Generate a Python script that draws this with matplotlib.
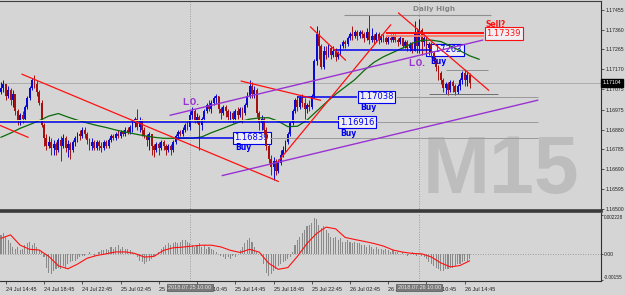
import matplotlib
matplotlib.use('Agg')
import matplotlib.pyplot as plt
import matplotlib.transforms as mtrans
import numpy as np

# ---------------- data (prices in pips above 1.16000) ----------------
BASE = 1.16
first_open = 106
close_pips = [108,110,104,107,102,105,97,92,95,93,
              99,103,108,112,110,106,101,90,84,80,
              82,79,81,78,83,80,84,79,81,78,
              82,84,86,85,88,86,83,80,82,79,
              82,80,79,82,80,83,85,84,86,85,
              87,86,88,87,89,91,93,89,92,88,
              85,83,86,80,78,81,79,82,80,78,
              80,78,82,85,87,86,88,90,89,95,
              97,92,94,90,93,97,100,98,101,103,
              104,98,96,99,97,94,96,93,97,95,
              98,96,100,104,109,105,107,96,91,93,
              88,80,74,70,73,68,72,76,78,82,
              86,91,97,102,99,103,101,98,100,99,
              104,121,134,128,118,126,124,127,124,126,
              123,125,128,130,129,132,134,133,135,133,
              135,134,132,135,131,133,131,134,131,133,
              132,130,132,131,133,131,130,132,128,130,
              127,129,126,134,128,136,130,132,127,129,
              125,121,118,115,112,108,110,107,111,109,
              106,109,112,115,112,114,110.4]
high_pips = [111,112,110,109,108,107,105,98,96,97,
             100,104,109,113,114,112,107,102,91,86,
             85,84,83,82,84,85,86,85,83,82,
             83,85,87,88,89,89,87,84,84,83,
             83,83,82,83,83,84,86,86,87,88,
             88,88,89,89,90,92,94,98,94,93,
             89,86,87,86,81,82,82,83,83,81,
             81,81,83,86,88,88,89,91,92,97,
             99,98,96,95,94,98,101,102,102,104,
             105,104,99,100,100,98,97,97,98,99,
             99,99,101,106,112,111,109,108,97,95,
             94,89,81,76,75,74,74,78,80,83,
             87,92,98,103,104,104,105,103,101,102,
             105,122,138,136,129,128,128,129,128,128,
             127,126,129,131,131,133,135,138,136,136,
             136,136,135,137,143,137,134,135,135,134,
             134,133,133,134,134,134,132,133,132,131,
             131,130,130,140,137,141,137,134,133,130,
             130,126,122,119,116,113,111,111,112,112,
             110,110,113,116,117,116,115]
low_pips = [105,106,102,103,100,99,95,90,90,91,
            92,98,102,107,108,104,100,89,80,78,
            79,76,76,76,77,73,79,77,75,74,
            77,80,82,83,84,84,81,78,78,78,
            78,78,77,78,79,79,82,83,83,84,
            84,85,85,86,86,87,89,88,87,85,
            84,80,78,76,75,77,76,78,78,76,
            77,76,77,81,84,85,85,87,88,88,
            93,91,91,78,88,92,96,97,96,100,
            101,96,93,95,94,92,92,91,92,93,
            94,91,95,99,103,103,103,94,88,88,
            86,78,72,66,64,66,67,71,75,77,
            81,85,90,96,97,98,99,93,96,97,
            98,103,119,122,117,117,122,123,122,123,
            121,122,124,127,127,128,131,131,132,131,
            132,132,130,131,129,130,129,130,129,130,
            130,129,129,130,130,130,128,129,127,127,
            126,126,125,126,125,125,124,128,125,124,
            123,120,116,112,110,106,105,104.5,106,106,
            104.5,105,107,110,109,109,108]
# moving average, read every 4th bar (pips)
ma_pips = [84.3,86.3,88.6,90.4,92.3,94.5,95.7,94.0,92.5,91.2,90.0,89.0,87.8,86.8,
           85.9,85.0,84.3,83.8,83.8,83.8,83.8,84.5,86.5,88.2,90.0,91.8,93.0,93.6,
           93.7,92.0,89.4,89.6,92.5,96.8,101.0,105.0,108.5,112.0,116.5,120.3,123.0,
           125.1,127.2,129.5,130.9,131.0,130.3,128.2,125.9,123.5,121.8]
# MACD histogram per bar and signal every 4th bar (units of 1e-4)
macd_hist = [11,12,10,8,6, 4,3,4,2, 3,5,6,7,5,6,4, 2,1,-2, -8,-11,-12,-10,
             -9,-8,-9,-7,-8,-6,-5, -4,-4,-3,-2, -1,-1,0,1,0,-1,0,1,
             2,2,3,2,4,3,4,5,3,4,3, 3,2,1,0, -2,-4,-5,-6,-5,-4,-3,
             -1,0,1,3,4,5, 6,5,6,7,6, 7,8,8,7,6, 5,4,5,6,4,5,3,4,3,2,
             1,0,-1,-2,-3,-2,-3,-1,-2,0, 2,4,6,8,9,7, 4,1,0,-1,
             -6,-11,-13,-12, -10,-9,-7,-6,-5,-4, -3,-2,1, 5,8,10,12,
             14,16,17,18, 21,20,17, 15,16,14,12,10, 9,10,8,9,7,
             7,8,7,6,7,6,6,5, 5,4,5,4,3,4,3,3, 2,3,2,1,2,1,1,0,1,
             0,-1,0,1,0,-1,0,-1, -2,-3,-5,-6,-7,-8,-9,-10,
             -10,-9,-9,-8,-8,-7, -6,-6,-5,-4,-4,-3]
macd_signal = [9.0,11.0,5.0,2.6,2.2,-1.5,-7.0,-8.7,-6.0,-2.6,-1.0,0.0,1.1,1.1,0.2,
               -1.9,-1.5,2.0,3.5,3.9,4.5,5.0,5.0,4.0,2.0,0.8,2.6,1.0,-5.5,-9.0,-8.0,
               -1.5,6.0,11.8,15.5,14.5,9.5,8.3,7.2,6.0,4.5,2.2,1.0,0.2,0.0,-1.8,-5.3,
               -7.6,-6.8,-4.1]
time_labels = ['24 Jul 14:45','24 Jul 18:45','24 Jul 22:45','25 Jul 02:45','25 Jul 06:45',
               '25 Jul 10:45','25 Jul 14:45','25 Jul 18:45','25 Jul 22:45','26 Jul 02:45',
               '26 Jul 06:45','26 Jul 10:45','26 Jul 14:45']
price_ticks = [1.17455,1.17360,1.17265,1.17170,1.17075,1.16975,1.16880,1.16785,
               1.16690,1.16595,1.16500]
bid_price = 1.17104
session_marks = [('2018.07.25 10:00', 79), ('2018.07.26 10:00', 175)]

# chart objects: (bar, pips) endpoints
red_lines = [((8.8,114.6),(116.0,63.1)), ((-0.42,90.0),(11.3,84.3)),
             ((100.5,111.3),(133.6,102.1)), ((115.6,72.2),(163.0,138.3)),
             ((129.5,137.3),(144.1,121.4)), ((166.3,144.0),(204.0,106.9))]
purple_lines = [((70.8,94.9),(201.5,131.0)), ((92.6,65.9),(224.5,102.1))]

BG = '#d5d5d5'
BULL = '#0a0ad2'
BEAR = '#a81010'
BLUE = '#0000f0'
PURPLE = '#9a32d2'
RED = '#ff1010'
AXF = 'Liberation Sans'

def P(pips):
    return BASE + np.asarray(pips, dtype=float) / 1e4

c = np.array(close_pips, float)
o = np.r_[first_open, c[:-1]]
h = np.maximum(np.array(high_pips, float), np.maximum(o, c))
l = np.minimum(np.array(low_pips, float), np.minimum(o, c))
idx = np.arange(len(c))

fig = plt.figure(figsize=(6.25, 2.95), dpi=100, facecolor=BG)
ax = fig.add_axes([0, 1 - 210.5/295, 601/625, (210.5 - 1)/295], facecolor=BG)
ax2 = fig.add_axes([0, 1 - 281/295, 601/625, (281 - 212.5)/295], facecolor=BG)
XL = (-0.42, 251.0)
for a in (ax, ax2):
    a.set_xlim(*XL)
    a.spines['left'].set_visible(False)
    a.spines['right'].set_color('#303030')
    a.spines['right'].set_linewidth(0.8)
ax.set_ylim(P(49.1), P(149.8))
ax2.set_ylim(-0.00158, 0.0024)
ax.spines['top'].set_color('#404040')
ax.spines['top'].set_linewidth(0.8)
ax.spines['bottom'].set_color('#3a3a3a')
ax.spines['bottom'].set_linewidth(2.6)
ax2.spines['top'].set_visible(False)
ax2.spines['bottom'].set_color('#303030')
ax2.spines['bottom'].set_linewidth(0.8)

# watermark
ax.text(209, P(67.4), 'M15', fontsize=58, fontweight='bold', family='Liberation Sans',
        color='#bdbdbd', ha='center', va='center', zorder=0.5)

# candles
up = c >= o
col = np.where(up, BULL, BEAR)
ax.vlines(idx, P(l), P(h), colors=col, linewidth=0.7, zorder=3)
body_lo = np.minimum(o, c)
body_h = np.maximum(np.abs(c - o), 0.4)
ax.bar(idx, body_h / 1e4, bottom=P(body_lo), width=0.78, color=col, linewidth=0, zorder=3)

# moving average
ma_idx = np.arange(len(ma_pips)) * 4
ax.plot(ma_idx, P(ma_pips), color='#0a6a0a', lw=0.9, zorder=3.5)

# bid line and separators
ax.axhline(bid_price, color='#a6a6a6', lw=0.6, zorder=1)
for lab, b in session_marks:
    for a in (ax, ax2):
        a.axvline(b, color='#9c9c9c', lw=0.7, ls=(0, (1, 1.5)), zorder=1)

# horizontal object lines
def hline(y_pips, x0, x1, color, lw=0.9, z=4):
    ax.plot([x0, x1], [P(y_pips), P(y_pips)], color=color, lw=lw, zorder=z, solid_capstyle='butt')

hline(92.5, -0.42, 142, '#f2f0a0', lw=0.7, z=3.8)
hline(91.6, -0.42, 141.2, BLUE, lw=1.1)
hline(91.6, 156.7, 224.5, '#9a9a9a', lw=0.7)
hline(83.9, 72.9, 97.2, BLUE, lw=1.1)
hline(83.9, 112.7, 224.5, '#9a9a9a', lw=0.7)
hline(103.8, 124.0, 149.1, BLUE, lw=1.1)
hline(103.8, 165.1, 224.5, '#9a9a9a', lw=0.7)
hline(126.3, 139.1, 179.7, BLUE, lw=1.1)
hline(143.1, 143.3, 204.9, '#8e8e8e', lw=0.8)
hline(116.6, 186.0, 203.6, '#8e8e8e', lw=0.7)
hline(104.9, 178.9, 207.8, '#6e6e6e', lw=0.7)
hline(133.2, 160.9, 201.9, '#ff7a6a', lw=1.3)
hline(134.2, 160.9, 201.9, RED, lw=1.4)

for (x0, y0), (x1, y1) in red_lines:
    ax.plot([x0, x1], P([y0, y1]), color=RED, lw=0.9, zorder=4)
for (x0, y0), (x1, y1) in purple_lines:
    ax.plot([x0, x1], P([y0, y1]), color=PURPLE, lw=1.0, zorder=4)

# boxes and labels
def box(xc, y_pips, txt, color):
    ax.text(xc, P(y_pips), txt, fontsize=6, color=color, ha='center', va='center', zorder=2,
            bbox=dict(boxstyle='square,pad=0.2', facecolor='#f0f0f4', edgecolor=color, linewidth=0.8))

box(104.9, 84.0, '1.16839', BLUE)
box(148.9, 91.6, '1.16916', BLUE)
box(157.1, 103.8, '1.17038', BLUE)
box(185.6, 126.4, '1.17263', BLUE)
box(210.3, 134.2, '1.17339', RED)

def lab(x, y_pips, txt, color, fs=5.5):
    ax.text(x, P(y_pips), txt, fontsize=fs, fontweight='bold', color=color, ha='left',
            va='center', zorder=5)

for x, y in [(98.0, 79.4), (142.0, 86.2), (150.4, 98.7), (179.7, 120.9)]:
    lab(x, y, 'Buy', BLUE)
for x, y in [(75.8, 101.1), (170.5, 119.9)]:
    lab(x, y, 'L.O.', PURPLE)
lab(202.8, 138.7, 'Sell?', RED)
ax.text(181, P(146.0), 'Daily High', fontsize=5.2, fontweight='bold', color='#858585',
        ha='center', va='center', zorder=5)

# right price axis
ax.yaxis.tick_right()
ax.set_yticks(price_ticks)
ax.set_yticklabels(['%.5f' % v for v in price_ticks], family=AXF)
ax.tick_params(axis='y', length=2, width=0.5, pad=1.2, labelsize=3.7, colors='#202020')
ax.set_xticks([])
ax.text(1.003, bid_price, '%.5f' % bid_price, transform=ax.get_yaxis_transform(),
        fontsize=3.7, family=AXF, color='white', ha='left', va='center', zorder=10, clip_on=False,
        bbox=dict(boxstyle='square,pad=0.3', facecolor='black', edgecolor='black'))

# MACD panel
ax2.bar(idx, np.array(macd_hist) * 1e-4, width=0.45, color='#8a8a8a', linewidth=0, zorder=2)
sig_idx = np.arange(len(macd_signal)) * 4
ax2.plot(sig_idx, np.array(macd_signal) * 1e-4, color=RED, lw=0.8, zorder=3)
ax2.axhline(0, color='#8a8a8a', lw=0.6, ls=(0, (1, 2)), zorder=1)
ax2.yaxis.tick_right()
mt = [0.002228, 0.0, -0.00155]
ax2.set_yticks(mt)
ax2.set_yticklabels(['0.002228', '0.00', '-0.00155'], family=AXF)
ax2.tick_params(axis='y', length=1.5, width=0.5, pad=0.6, labelsize=3.7, colors='#202020')
tl = ax2.get_yticklabels()
tl[0].set_va('top')
tl[0].set_fontsize(3.3)
tl[2].set_va('bottom')
tl[2].set_fontsize(3.4)

tick_bars = 2 + 16 * np.arange(len(time_labels))
ax2.set_xticks(tick_bars)
ax2.set_xticklabels(time_labels, family=AXF)
ax2.tick_params(axis='x', length=2.5, width=0.5, pad=1.5, labelsize=4, colors='#202020')
for t in ax2.get_xticklabels():
    t.set_ha('left')
trans = mtrans.blended_transform_factory(ax2.transData, ax2.transAxes)
for labtxt, b in session_marks:
    ax2.text(b, -0.06, labtxt, transform=trans, fontsize=4, family=AXF, color='#e6e6e6',
             ha='center', va='top', zorder=20, clip_on=False,
             bbox=dict(boxstyle='square,pad=0.25', facecolor='#7a7a7a', edgecolor='#555555', linewidth=0.5))

fig.savefig('out.png', dpi=100, facecolor=BG)
